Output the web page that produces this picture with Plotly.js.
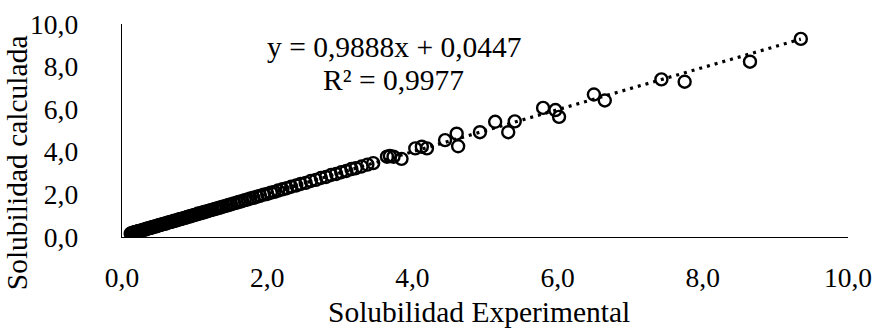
<!DOCTYPE html>
<html>
<head>
<meta charset="utf-8">
<script src="https://cdn.plot.ly/plotly-3.0.1.min.js"></script>
<style>
  html, body { margin: 0; padding: 0; background: #fff; }
  #chart { width: 877px; height: 328px; }
</style>
</head>
<body>
<div id="chart"></div>
<script>
// Experimental vs. calculated solubility
const solExperimental = [
  0.12,0.13,0.15,0.16,0.18,0.19,0.21,0.22,0.24,0.26,0.27,0.29,0.31,0.33,0.34,0.36,0.38,0.40,0.41,0.43,
  0.45,0.47,0.49,0.50,0.52,0.54,0.56,0.58,0.60,0.62,0.64,0.66,0.68,0.70,0.72,0.74,0.77,0.79,0.81,0.83,
  0.86,0.88,0.90,0.93,0.95,0.98,1.00,1.03,1.05,1.08,1.11,1.13,1.16,1.19,1.22,1.25,1.28,1.31,1.34,1.37,
  1.40,1.44,1.47,1.50,1.54,1.58,1.61,1.65,1.69,1.73,1.77,1.81,1.86,1.90,1.95,2.00,2.05,2.10,2.15,2.21,
  2.27,2.33,2.40,2.46,2.53,2.60,2.67,2.74,2.81,2.88,2.95,3.02,3.09,3.16,3.22,3.30,3.38,3.46,
  3.65,3.69,3.74,3.85,4.04,4.13,4.20,4.45,4.61,4.63,4.93,5.14,5.32,5.41,5.80,5.97,6.02,6.50,6.65,
  7.43,7.75,8.65,9.35
];
const solCalculada = [
  0.16,0.18,0.19,0.21,0.22,0.24,0.25,0.27,0.28,0.30,0.31,0.33,0.35,0.36,0.39,0.40,0.42,0.43,0.46,0.47,
  0.49,0.50,0.53,0.54,0.56,0.58,0.60,0.62,0.63,0.66,0.68,0.70,0.71,0.74,0.76,0.77,0.81,0.82,0.85,0.86,
  0.90,0.91,0.94,0.96,0.99,1.01,1.04,1.06,1.10,1.11,1.15,1.16,1.20,1.22,1.26,1.28,1.32,1.34,1.38,1.40,
  1.44,1.47,1.51,1.53,1.58,1.61,1.65,1.68,1.73,1.76,1.81,1.84,1.89,1.93,1.99,2.02,2.08,2.12,2.18,2.24,
  2.29,2.36,2.42,2.49,2.54,2.63,2.68,2.77,2.82,2.91,2.96,3.04,3.10,3.19,3.23,3.31,3.40,3.47,
  3.77,3.80,3.77,3.67,4.16,4.24,4.16,4.55,4.85,4.26,4.92,5.41,4.92,5.43,6.06,5.96,5.64,6.69,6.41,
  7.40,7.29,8.23,9.30
];

// Linear trendline coefficients
const slope = 0.9888;
const intercept = 0.0447;
const rSquared = 0.9977;

const tickValues = [0, 2, 4, 6, 8, 10];
const tickLabels = ['0,0', '2,0', '4,0', '6,0', '8,0', '10,0'];

const xTitle = 'Solubilidad Experimental';
const yTitle = 'Solubilidad calculada';

const fmt = (v) => String(v).replace('.', ',');

const xMin = Math.min(...solExperimental);
const xMax = Math.max(...solExperimental);
const trendX = [xMin, xMax];
const trendY = trendX.map(x => slope * x + intercept);

const FONT = 'Liberation Serif, Times New Roman, serif';
const txt = (size) => ({ family: FONT, size: size, color: '#000' });

const traces = [
  {
    x: solExperimental,
    y: solCalculada,
    type: 'scatter',
    mode: 'markers',
    marker: {
      symbol: 'circle-open',
      size: 12,
      color: '#000',
      line: { color: '#000', width: 2.4 }
    },
    hoverinfo: 'x+y'
  },
  {
    x: trendX,
    y: trendY,
    type: 'scatter',
    mode: 'lines',
    line: { color: '#000', width: 3.2, dash: '3px,5px' },
    hoverinfo: 'skip'
  }
];

// invisible outside ticks push the labels away from the axis lines
const axisBase = {
  range: [0, 10],
  tickvals: tickValues,
  ticktext: tickLabels,
  ticks: 'outside',
  tickcolor: 'rgba(0,0,0,0)',
  showgrid: false,
  zeroline: false,
  showline: true,
  linecolor: '#000',
  linewidth: 1.3,
  tickfont: txt(27.5),
  fixedrange: true
};

const layout = {
  width: 877,
  height: 328,
  margin: { l: 122, r: 29, t: 24, b: 91 },
  paper_bgcolor: '#fff',
  plot_bgcolor: '#fff',
  showlegend: false,
  font: txt(29),
  xaxis: Object.assign({}, axisBase, { ticklen: 16 }),
  yaxis: Object.assign({}, axisBase, { ticklen: 37 }),
  annotations: [
    {
      xref: 'paper', yref: 'paper',
      x: 0.3747, y: 0.89,
      xanchor: 'center', yanchor: 'middle',
      text: 'y = ' + fmt(slope) + 'x + ' + fmt(intercept),
      showarrow: false,
      font: txt(29.5)
    },
    {
      xref: 'paper', yref: 'paper',
      x: 0.3733, y: 0.738,
      xanchor: 'center', yanchor: 'middle',
      text: 'R² = ' + fmt(rSquared),
      showarrow: false,
      font: txt(29.5)
    },
    {
      // x-axis title
      xref: 'paper', yref: 'paper',
      x: 0.4917, y: -0.352,
      xanchor: 'center', yanchor: 'middle',
      text: xTitle,
      showarrow: false,
      font: txt(29.5)
    },
    {
      // y-axis title
      xref: 'paper', yref: 'paper',
      x: -0.1435, y: 0.35,
      xanchor: 'center', yanchor: 'middle',
      textangle: -90,
      text: yTitle,
      showarrow: false,
      font: txt(29.5)
    }
  ]
};

Plotly.newPlot('chart', traces, layout, { displayModeBar: false, staticPlot: true });
</script>
</body>
</html>
